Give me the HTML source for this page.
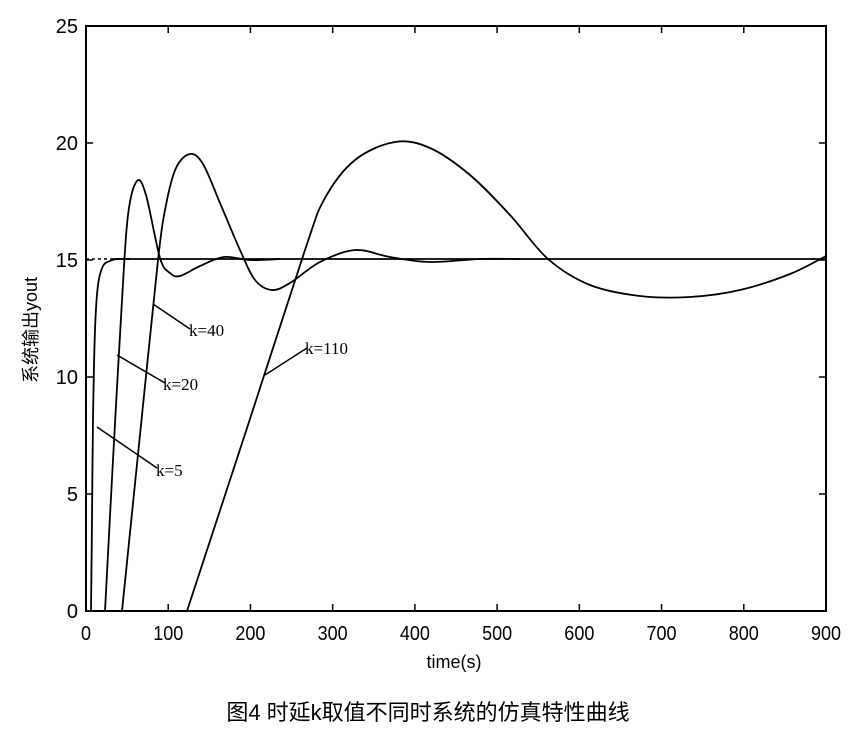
<!DOCTYPE html>
<html><head><meta charset="utf-8"><style>
html,body{margin:0;padding:0;background:#fff;}
svg{display:block}
</style></head><body>
<svg id="s" width="857" height="736" xmlns="http://www.w3.org/2000/svg" font-family="'Liberation Sans','Noto Sans CJK SC',sans-serif">
<rect x="86" y="26" width="740" height="585" fill="none" stroke="#000" stroke-width="2"/>
<g id="ticks" stroke="#000" stroke-width="1.5"></g>
<g font-size="20" fill="#000" text-anchor="middle" id="xl" transform="scale(0.9,1)"></g>
<g font-size="20" fill="#000" text-anchor="end" id="yl"></g>
<line x1="86" y1="259" x2="112" y2="259" stroke="#000" stroke-width="1.5" stroke-dasharray="3,3"/>
<line x1="112" y1="259" x2="826" y2="259" stroke="#000" stroke-width="1.8"/>
<g id="curves" fill="none" stroke="#000" stroke-width="1.8" stroke-linejoin="round"></g>
<g stroke="#000" stroke-width="1.5">
<line x1="153" y1="304" x2="190" y2="329"/>
<line x1="117" y1="355" x2="165" y2="383"/>
<line x1="97" y1="427" x2="157" y2="468"/>
<line x1="265" y1="375" x2="307" y2="348"/>
</g>
<g font-family="'Liberation Serif',serif" font-size="17" fill="#000">
<text x="189" y="336">k=40</text>
<text x="163" y="390">k=20</text>
<text x="156" y="476">k=5</text>
<text x="305" y="354">k=110</text>
</g>
<text x="454" y="668" font-size="18" text-anchor="middle">time(s)</text>
<text transform="translate(37,330) rotate(-90)" font-size="18" text-anchor="middle">系统输出yout</text>
<text x="428" y="720" font-size="22" text-anchor="middle" font-family="'Liberation Sans','Noto Sans CJK SC',sans-serif">图4 时延k取值不同时系统的仿真特性曲线</text>
</svg>
<script>
var NS="http://www.w3.org/2000/svg";
function X(t){return 86+t*740/900}
function Y(v){return 611-v*585/25}
var tk=document.getElementById('ticks'),xl=document.getElementById('xl'),yl=document.getElementById('yl');
function ln(a,b,c,d){var l=document.createElementNS(NS,'line');l.setAttribute('x1',a);l.setAttribute('y1',b);l.setAttribute('x2',c);l.setAttribute('y2',d);tk.appendChild(l);}
for(var t=0;t<=900;t+=100){var x=X(t);ln(x,611,x,604);ln(x,26,x,33);var e=document.createElementNS(NS,'text');e.setAttribute('x',x/0.9);e.setAttribute('y',640);e.textContent=t;xl.appendChild(e);}
for(var v=0;v<=25;v+=5){var y=Y(v);ln(86,y,93,y);ln(826,y,819,y);var e=document.createElementNS(NS,'text');e.setAttribute('x',78);e.setAttribute('y',y+7);e.textContent=v;yl.appendChild(e);}
function cr(p){var d="M"+p[0][0]+","+p[0][1];for(var i=0;i<p.length-1;i++){var p0=p[i-1]||p[i],p1=p[i],p2=p[i+1],p3=p[i+2]||p2;
var c1=[p1[0]+(p2[0]-p0[0])/6,p1[1]+(p2[1]-p0[1])/6],c2=[p2[0]-(p3[0]-p1[0])/6,p2[1]-(p3[1]-p1[1])/6];
d+=" C"+c1[0]+","+c1[1]+" "+c2[0]+","+c2[1]+" "+p2[0]+","+p2[1];}return d;}
var C=[
[[91,611],[92,520],[93,420],[95,330],[98,285],[103,266],[110,261],[117,259],[130,259]],
[[105,611],[113,460],[122,300],[128,215],[137,181],[146,195],[160,258],[170,273],[180,276],[200,266],[224,257],[250,260],[280,259]],
[[122,611],[141,425],[158,260],[166,205],[176,168],[190,154],[203,164],[220,203],[240,250],[255,280],[272,290],[290,283],[320,262],[355,250],[390,257],[430,262],[480,259],[520,259]],
[[187,611],[248,425],[305,250],[325,198],[355,160],[395,142],[430,148],[470,175],[510,215],[548,259],[590,285],[640,296],[690,297],[740,290],[790,274],[826,256]]
];
var g=document.getElementById('curves');
C.forEach(function(p){var e=document.createElementNS(NS,'path');e.setAttribute('d',cr(p));g.appendChild(e);});
</script>
</body></html>
